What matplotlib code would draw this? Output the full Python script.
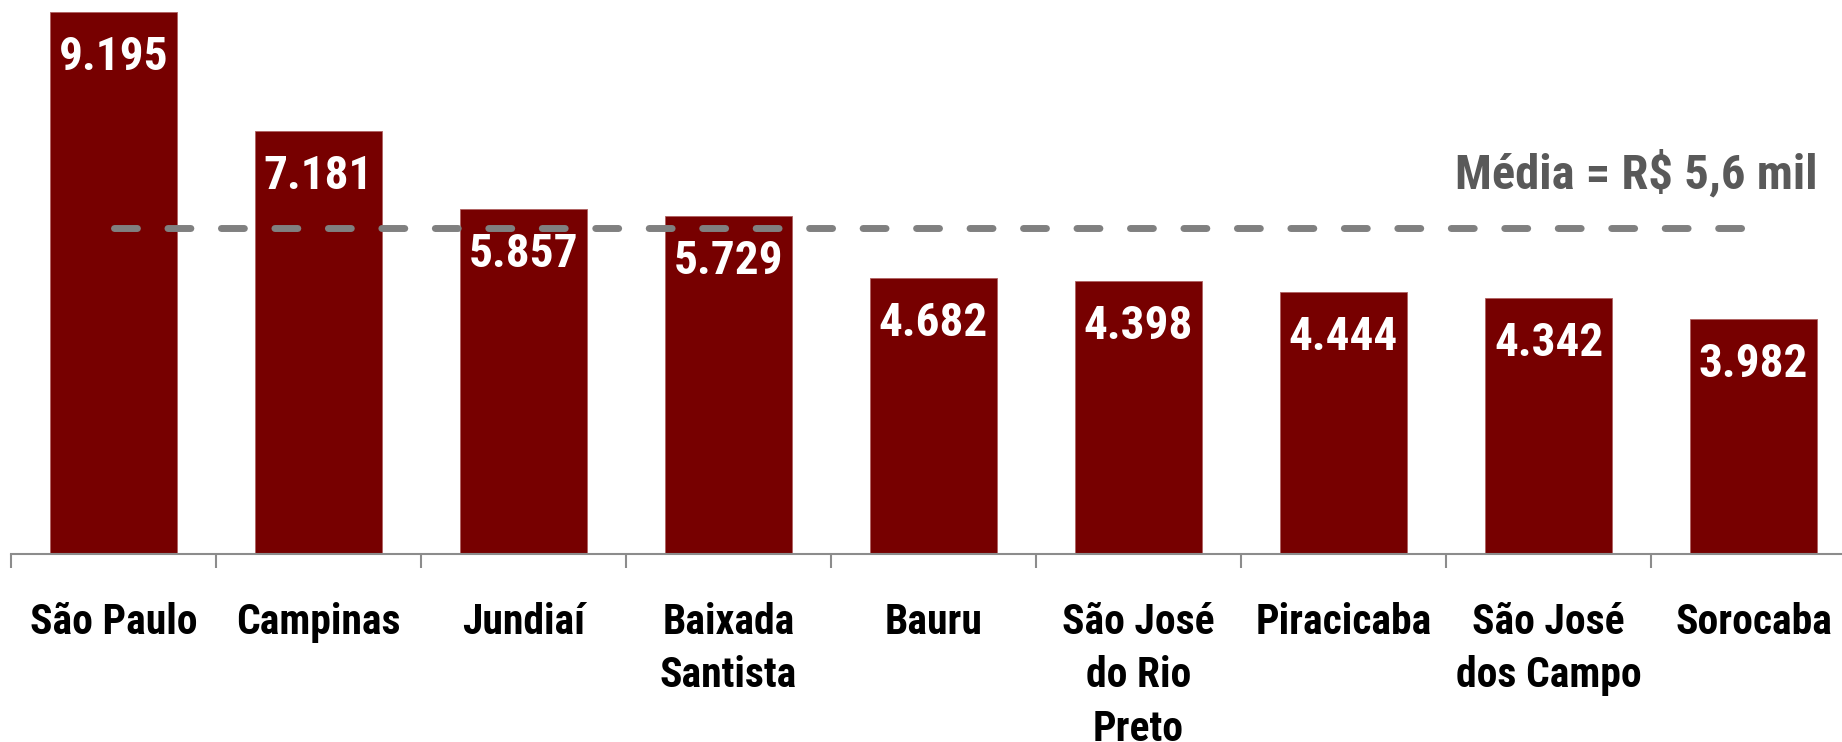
import matplotlib
matplotlib.use("Agg")
import matplotlib.pyplot as plt
from matplotlib import font_manager

# dados (R$ mil)
regioes = ["São Paulo", "Campinas", "Jundiaí", "Baixada\nSantista", "Bauru",
           "São José\ndo Rio\nPreto", "Piracicaba", "São José\ndos Campo", "Sorocaba"]
alturas = [9195, 7181, 5857, 5729, 4682, 4640, 4444, 4342, 3982]
rotulos = ["9.195", "7.181", "5.857", "5.729", "4.682", "4.398", "4.444", "4.342", "3.982"]
media = 5540
texto_media = "Média = R$ 5,6 mil"

# fonte condensada, se houver
nomes = {f.name for f in font_manager.fontManager.ttflist}
fonte = "Liberation Sans"
for cand in ["Liberation Sans Narrow", "Arial Narrow", "Roboto Condensed", "Open Sans Condensed"]:
    if cand in nomes:
        fonte = cand
        break
plt.rcParams["font.family"] = [fonte, "DejaVu Sans"]

W, H, dpi = 1842, 742, 100
fig = plt.figure(figsize=(W / dpi, H / dpi), dpi=dpi)
# eixo: base em y=554 px, de x=11 a 1856 px (passa da borda direita)
ax = fig.add_axes([11 / W, (H - 554) / H, 1845 / W, 554 / H])

x = list(range(len(regioes)))
ax.bar(x, alturas, width=0.62, color="#770000", edgecolor="#b06060", linewidth=0.6, zorder=2)
ax.set_xlim(-0.5, len(regioes) - 0.5)
ax.set_ylim(0, 554 / 0.058912)

for xi, h, r in zip(x, alturas, rotulos):
    ax.annotate(r, (xi, h), xytext=(0, -58), textcoords="offset pixels",
                ha="center", va="baseline", color="white", fontsize=34,
                fontweight="bold", zorder=4)

ax.hlines(media, 0, len(regioes) - 1, colors="#808080", linewidth=5.0,
          linestyles=(0, (3.3, 4.4)), capstyle="round", zorder=3)
ax.annotate(texto_media, (8.31, media), xytext=(0, 39), textcoords="offset pixels",
            ha="right", va="baseline", color="#595959", fontsize=35, fontweight="bold")

for s in ["top", "left", "right"]:
    ax.spines[s].set_visible(False)
ax.spines["bottom"].set_color("#8c8c8c")
ax.spines["bottom"].set_linewidth(1.5)
ax.set_yticks([])

ax.set_xticks(x, regioes)
ax.set_xticks([i - 0.5 for i in range(len(regioes) + 1)], minor=True)
ax.tick_params(axis="x", which="major", length=0, pad=34.5)
ax.tick_params(axis="x", which="minor", length=10, width=1.5, color="#8c8c8c")
for lab in ax.get_xticklabels():
    lab.set_fontsize(30)
    lab.set_fontweight("bold")
    lab.set_verticalalignment("top")
    lab.set_linespacing(1.39)

fig.savefig("out.png", dpi=dpi)
